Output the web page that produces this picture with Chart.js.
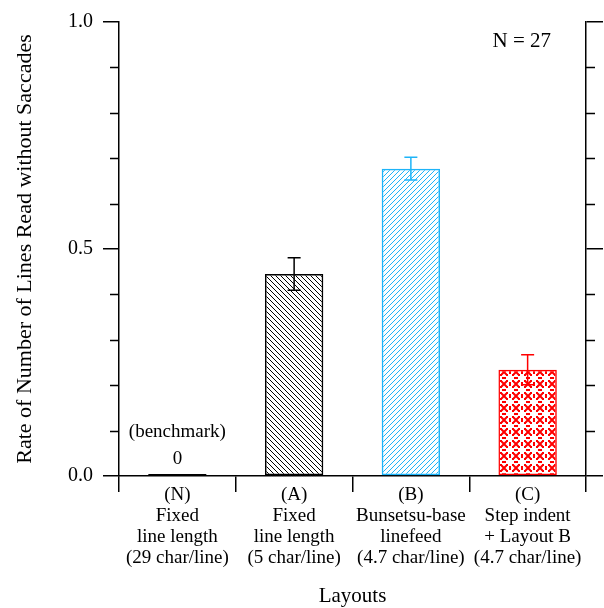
<!DOCTYPE html>
<html>
<head>
<meta charset="utf-8">
<script src="https://cdn.jsdelivr.net/npm/chart.js@4"></script>
<style>
  body { margin: 0; background: #fff; }
  canvas { display: block; }
</style>
</head>
<body>
<canvas id="ratesChart" width="604" height="608"></canvas>
<script>
// layouts on the x axis (multi-line labels)
const layoutLabels = [
  ['(N)', 'Fixed', 'line length', '(29 char/line)'],
  ['(A)', 'Fixed', 'line length', '(5 char/line)'],
  ['(B)', 'Bunsetsu-base', 'linefeed', '(4.7 char/line)'],
  ['(C)', 'Step indent', '+ Layout B', '(4.7 char/line)']
];
// rate of lines read without saccades, and error bar half-lengths
const rates = [0, 0.445, 0.677, 0.234];
const rateErrors = [0, 0.036, 0.025, 0.033];
const barColors = ['#000000', '#000000', '#1eb4f8', '#ff0000'];
const yMin = 0;
const yMax = 1;
const yMajorStep = 0.5;
const yMinorStep = 0.1;
const sampleNote = 'N = 27';
const benchmarkNote = ['(benchmark)', '0'];

const serif = 'Liberation Serif, Times New Roman, serif';

// hatch patterns
function stripes(color, dir) {
  let c = document.createElement('canvas');
  c.width = 5; c.height = 5;
  let g = c.getContext('2d');
  g.strokeStyle = color;
  g.lineWidth = 1;
  g.beginPath();
  if (dir > 0) {
    g.moveTo(-1, 6); g.lineTo(6, -1);
    g.moveTo(-6, 6); g.lineTo(1, -1);
    g.moveTo(4, 6); g.lineTo(11, -1);
  } else {
    g.moveTo(-1, -1); g.lineTo(6, 6);
    g.moveTo(-6, -1); g.lineTo(1, 6);
    g.moveTo(4, -1); g.lineTo(11, 6);
  }
  g.stroke();
  return g.createPattern(c, 'repeat');
}

function lattice(color) {
  let c = document.createElement('canvas');
  c.width = 12; c.height = 12;
  let g = c.getContext('2d');
  g.fillStyle = color;
  g.strokeStyle = color;
  g.lineWidth = 2;
  // X marks at the corners
  [[0, 0], [12, 0], [0, 12], [12, 12]].forEach(function (p) {
    g.beginPath();
    g.moveTo(p[0] - 2.5, p[1] - 2.5); g.lineTo(p[0] + 2.5, p[1] + 2.5);
    g.moveTo(p[0] + 2.5, p[1] - 2.5); g.lineTo(p[0] - 2.5, p[1] + 2.5);
    g.stroke();
  });
  // dotted diamond round the centre
  [[6, 1], [9, 3], [11, 6], [9, 9], [6, 11], [3, 9], [1, 6], [3, 3]].forEach(function (p) {
    g.fillRect(p[0] - 1, p[1] - 1, 2, 2);
  });
  return g.createPattern(c, 'repeat');
}

const barFills = ['#000000', stripes('#000000', -1), stripes('#1eb4f8', 1), lattice('#ff0000')];

// error bars, minor ticks and notes
const extrasPlugin = {
  id: 'extras',
  afterDatasetsDraw(chart) {
    let ctx = chart.ctx;
    let y = chart.scales.y;
    let meta = chart.getDatasetMeta(0);
    ctx.save();
    ctx.lineWidth = 1.5;
    meta.data.forEach(function (bar, i) {
      if (!rateErrors[i]) return;
      let top = y.getPixelForValue(rates[i] + rateErrors[i]);
      let bot = y.getPixelForValue(rates[i] - rateErrors[i]);
      ctx.strokeStyle = barColors[i];
      ctx.beginPath();
      ctx.moveTo(bar.x, top); ctx.lineTo(bar.x, bot);
      ctx.moveTo(bar.x - 6.5, top); ctx.lineTo(bar.x + 6.5, top);
      ctx.moveTo(bar.x - 6.5, bot); ctx.lineTo(bar.x + 6.5, bot);
      ctx.stroke();
    });

    // minor ticks on both sides
    let left = chart.chartArea.left;
    let right = chart.chartArea.right;
    ctx.strokeStyle = '#000';
    ctx.lineWidth = 1.5;
    ctx.beginPath();
    for (let v = yMin + yMinorStep; v < yMax - 1e-9; v += yMinorStep) {
      if (Math.abs(v / yMajorStep - Math.round(v / yMajorStep)) < 1e-6) continue;
      let py = Math.round(y.getPixelForValue(v)) + 0.5;
      ctx.moveTo(left - 9, py); ctx.lineTo(left, py);
      ctx.moveTo(right, py); ctx.lineTo(right + 9, py);
    }
    ctx.stroke();

    // benchmark note over bar N
    let n = meta.data[0];
    let base = y.getPixelForValue(0);
    ctx.fillStyle = '#000';
    ctx.font = '19px ' + serif;
    ctx.textAlign = 'center';
    ctx.textBaseline = 'middle';
    ctx.fillText(benchmarkNote[0], n.x, base - 44);
    ctx.fillText(benchmarkNote[1], n.x, base - 17);

    // sample size
    ctx.font = '21px ' + serif;
    ctx.textAlign = 'right';
    ctx.textBaseline = 'alphabetic';
    ctx.fillText(sampleNote, 551, 47);
    ctx.restore();
  }
};

let ratesCanvas = document.getElementById('ratesChart');
let ratesChart = new Chart(ratesCanvas, {
  type: 'bar',
  data: {
    labels: layoutLabels,
    datasets: [{
      data: rates,
      backgroundColor: barFills,
      borderColor: barColors,
      borderWidth: 1.5,
      borderSkipped: false,
      minBarLength: 2,
      barPercentage: 0.5,
      categoryPercentage: 1
    }]
  },
  options: {
    responsive: false,
    animation: false,
    devicePixelRatio: 1,
    layout: { padding: { top: 19, left: 0, right: 0, bottom: 0 } },
    plugins: {
      legend: { display: false },
      tooltip: { enabled: false }
    },
    scales: {
      x: {
        grid: {
          offset: true,
          drawOnChartArea: false,
          tickLength: 16,
          color: '#000',
          lineWidth: 1.5
        },
        border: { color: '#000', width: 1.5 },
        ticks: {
          color: '#000',
          padding: -7,
          maxRotation: 0,
          autoSkip: false,
          font: { family: serif, size: 19, lineHeight: 1.1 }
        },
        title: {
          display: true,
          text: 'Layouts',
          color: '#000',
          padding: { top: 0, bottom: 0 },
          font: { family: serif, size: 21, lineHeight: 1.05 }
        },
        afterFit: function (scale) { scale.height = 132; }
      },
      y: {
        min: yMin,
        max: yMax,
        grid: {
          drawOnChartArea: false,
          tickLength: 16,
          color: '#000',
          lineWidth: 1.5
        },
        border: { color: '#000', width: 1.5 },
        ticks: {
          stepSize: yMajorStep,
          color: '#000',
          padding: 10,
          font: { family: serif, size: 20 },
          callback: function (v) { return v.toFixed(1); }
        },
        title: {
          display: true,
          text: 'Rate of Number of Lines Read without Saccades',
          color: '#000',
          padding: { top: 12, bottom: 0 },
          font: { family: serif, size: 22, lineHeight: 1.2 }
        },
        afterFit: function (scale) { scale.width = 119; }
      },
      y2: {
        position: 'right',
        min: yMin,
        max: yMax,
        grid: {
          drawOnChartArea: false,
          tickLength: 17,
          color: '#000',
          lineWidth: 1.5
        },
        border: { color: '#000', width: 1.5 },
        ticks: { stepSize: yMajorStep, display: false },
        afterFit: function (scale) { scale.width = 18; }
      }
    }
  },
  plugins: [extrasPlugin]
});
</script>
</body>
</html>
